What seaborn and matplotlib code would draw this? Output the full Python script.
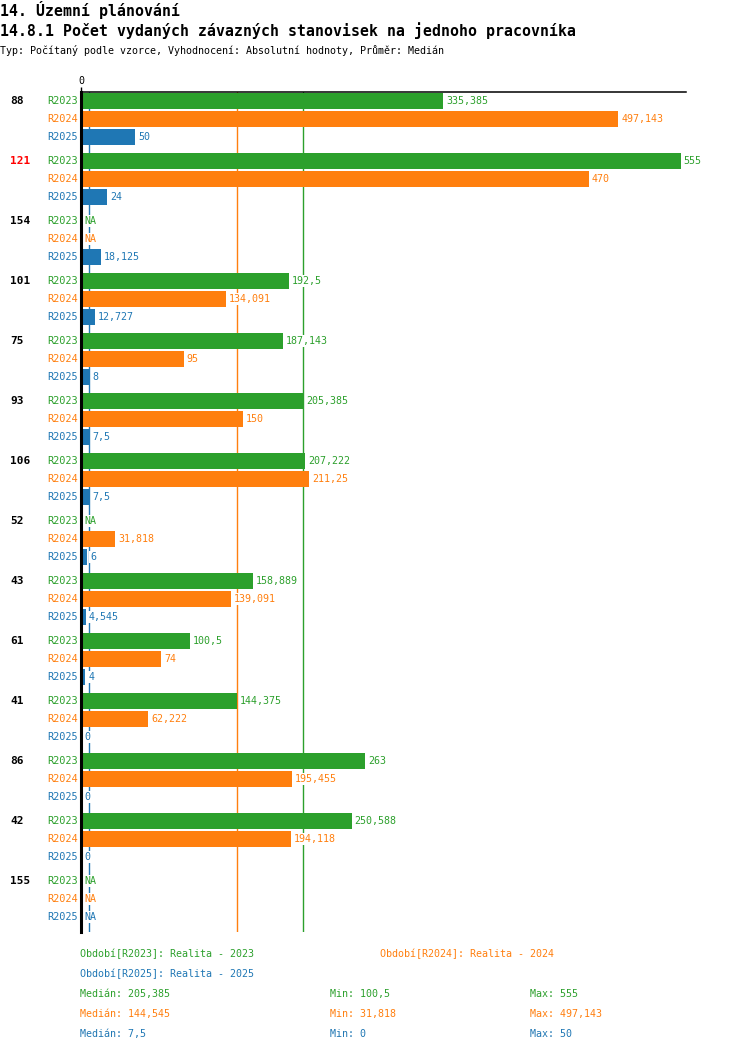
import numpy as np
import pandas as pd
import matplotlib
matplotlib.use("Agg")
import matplotlib.pyplot as plt
import matplotlib.transforms as mtransforms
import seaborn as sns

# data
groups = ["88", "121", "154", "101", "75", "93", "106", "52", "43", "61", "41", "86", "42", "155"]
highlight = "121"
periods = ["R2023", "R2024", "R2025"]
period_names = ["Realita - 2023", "Realita - 2024", "Realita - 2025"]
r2023 = [335.385, 555, np.nan, 192.5, 187.143, 205.385, 207.222, np.nan, 158.889, 100.5, 144.375, 263, 250.588, np.nan]
r2024 = [497.143, 470, np.nan, 134.091, 95, 150, 211.25, 31.818, 139.091, 74, 62.222, 195.455, 194.118, np.nan]
r2025 = [50, 24, 18.125, 12.727, 8, 7.5, 7.5, 6, 4.545, 4, 0, 0, 0, np.nan]
colors = ["#2ca02c", "#ff7f0e", "#1f77b4"]

series = [r2023, r2024, r2025]
df = pd.DataFrame({
    "group": groups * 3,
    "period": [p for p in periods for _ in groups],
    "value": r2023 + r2024 + r2025,
})


def fmt(v):
    # three decimals, cut off (not rounded), decimal comma
    v = np.floor(v * 1000 + 1e-6) / 1000
    return f"{v:g}".replace(".", ",")


sns.set_theme(style="white")
plt.rcParams["font.family"] = ["DejaVu Sans Mono"]
plt.rcParams["text.color"] = "black"
plt.rcParams["xtick.color"] = "black"
FS = 7.2

fig = plt.figure(figsize=(7.5, 10.52), dpi=100)
ax = fig.add_axes([81 / 750, 1 - 932 / 1052, 605 / 750, 840 / 1052])

width = 0.9
slot = width / len(periods)
sns.barplot(data=df, y="group", x="value", hue="period", order=groups,
            hue_order=periods, palette=colors, orient="h", width=width,
            gap=0.11, saturation=1, linewidth=0, legend=False, ax=ax,
            zorder=2)

# median lines
for vals, c in zip(series, colors):
    ax.axvline(np.nanmedian(vals), color=c, lw=1, zorder=1)

ax.set_xlim(0, 560)
ax.set_ylim(len(groups) - 0.45, -0.45)
ax.set_xlabel("")
ax.set_ylabel("")
ax.xaxis.tick_top()
ax.set_xticks([0])
ax.set_xticklabels(["0"], fontsize=FS)
ax.tick_params(axis="x", length=3.6, width=1, color="black", pad=1)
ax.set_yticks([])
for s in ["right", "bottom"]:
    ax.spines[s].set_visible(False)
ax.spines["left"].set_linewidth(2.2)
ax.spines["left"].set_color("black")
ax.spines["left"].set_zorder(5)
ax.spines["top"].set_linewidth(1.1)
ax.spines["top"].set_color("black")

lab_tr = mtransforms.blended_transform_factory(fig.transFigure, ax.transData)
for i, g in enumerate(groups):
    top = i - slot
    ax.text(10 / 750, top, g, transform=lab_tr, ha="left", va="center",
            fontsize=8, fontweight="bold", color="red" if g == highlight else "black")
    for k, (vals, c) in enumerate(zip(series, colors)):
        y = i + (k - 1) * slot
        ax.annotate(periods[k], xy=(0, y), xycoords=ax.get_yaxis_transform(),
                    xytext=(-3, 0), textcoords="offset pixels", ha="right",
                    va="center", fontsize=7.4, color=c)
        v = vals[i]
        txt = "NA" if np.isnan(v) else fmt(v)
        x = 0 if np.isnan(v) else v
        ax.annotate(txt, xy=(x, y), xycoords="data", xytext=(3, 0),
                    textcoords="offset pixels", ha="left", va="center",
                    fontsize=FS, color=c, zorder=4,
                    bbox=dict(boxstyle="square,pad=0.1", fc="white", ec="none"))

# titles
fig.text(0, 1 - 10 / 1052, "14. Územní plánování", fontsize=10.7,
         fontweight="bold", va="center", ha="left")
fig.text(0, 1 - 31 / 1052, "14.8.1 Počet vydaných závazných stanovisek na jednoho pracovníka",
         fontsize=10.7, fontweight="bold", va="center", ha="left")
fig.text(0, 1 - 51 / 1052, "Typ: Počítaný podle vzorce, Vyhodnocení: Absolutní hodnoty, Průměr: Medián",
         fontsize=FS, va="center", ha="left")

# legend / summary
leg_pos = [(80, 954), (380, 954), (80, 974)]
for (px, py), p, name, c in zip(leg_pos, periods, period_names, colors):
    fig.text(px / 750, 1 - py / 1052, f"Období[{p}]: {name}", fontsize=FS,
             color=c, va="center", ha="left")
for k, (vals, c) in enumerate(zip(series, colors)):
    py = 1 - (994 + 20 * k) / 1052
    fig.text(80 / 750, py, f"Medián: {fmt(np.nanmedian(vals))}", fontsize=FS, color=c, va="center")
    fig.text(330 / 750, py, f"Min: {fmt(np.nanmin(vals))}", fontsize=FS, color=c, va="center")
    fig.text(530 / 750, py, f"Max: {fmt(np.nanmax(vals))}", fontsize=FS, color=c, va="center")

fig.savefig("out.png", dpi=100)
